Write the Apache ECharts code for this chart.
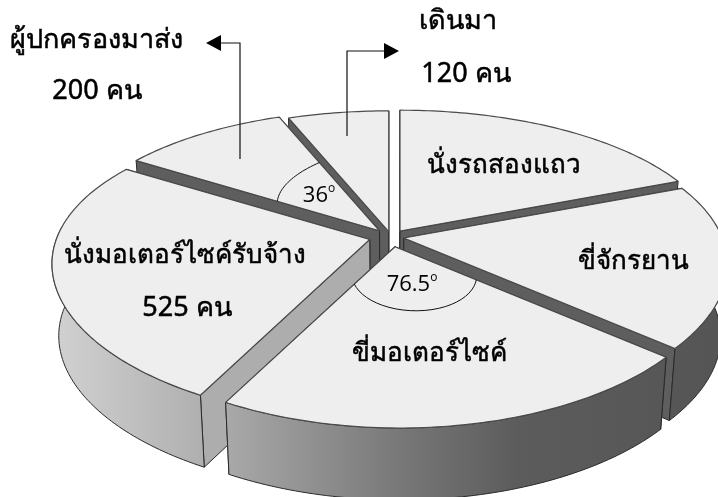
<!DOCTYPE html>
<html>
<head>
<meta charset="utf-8">
<style>
  html, body { margin: 0; padding: 0; background: #fff; }
  #chart { width: 718px; height: 497px; }
</style>
</head>
<body>
<div id="chart"></div>
<script src="https://cdn.jsdelivr.net/npm/echarts@6/dist/echarts.min.js"></script>
<script>
// จำนวนคนแต่ละวิธีเดินทาง (เริ่มที่ 12 นาฬิกา ตามเข็ม)
var sliceNames = ['นั่งรถสองแถว', 'ขี่จักรยาน', 'ขี่มอเตอร์ไซค์', 'นั่งมอเตอร์ไซค์รับจ้าง', 'ผู้ปกครองมาส่ง', 'เดินมา']
var sliceValues = [380, 350, 425, 525, 200, 120]
var valueLabels = ['', '', '', '525 คน', '200 คน', '120 คน']
var angleLabels = ['36', '76.5']

var total = sliceValues.reduce(function (a, b) { return a + b }, 0)
var rad = Math.PI / 180

// tilted disc
var cx = 391, cy = 237, rx = 316, ry = 145, px = 0.17, py = 0.2, skew = 2.5, depth = 72, taper = 0.02
var explode = [16, 13, 22, 22, 18, 12]
var paintOrder = [1, 3, 5, 4, 2, 0]
var font = '"Noto Sans", "Liberation Sans", sans-serif'
var sideFill = new echarts.graphic.LinearGradient(0, 0, 718, 0, [
  { offset: 0.07, color: '#d2d2d2' },
  { offset: 0.28, color: '#b0b0b0' },
  { offset: 0.32, color: '#a8a8a8' },
  { offset: 0.56, color: '#777777' },
  { offset: 0.72, color: '#5c5c5c' },
  { offset: 1, color: '#555555' }
], true)

function rimOffset(deg, ratio) {
  var s = Math.sin(deg * rad), c = Math.cos(deg * rad)
  return [ratio * (rx * s / (1 + px * c) + skew * (1 - c)), -ratio * ry * c / (1 + py * c)]
}

function sliceRange(i) {
  var sum = 0
  for (var k = 0; k < i; k++) sum += sliceValues[k]
  return [sum / total * 360, (sum + sliceValues[i]) / total * 360]
}

function apexOf(i) {
  var r = sliceRange(i), mid = (r[0] + r[1]) / 2
  return [cx + explode[i] * Math.sin(mid * rad), cy - explode[i] * 0.45 * Math.cos(mid * rad)]
}

function rimPoint(i, deg, ratio) {
  var a = apexOf(i), o = rimOffset(deg, ratio === undefined ? 1 : ratio)
  return [a[0] + o[0], a[1] + o[1]]
}

function below(p) {
  return [p[0] + (cx - p[0]) * taper, p[1] + depth]
}

function wallColor(deg) {
  var s = Math.sin(deg * rad), c = Math.cos(deg * rad)
  return s < 0 && c < 0 ? '#adadad' : '#5e5e5e'
}

function renderSlice(params, api) {
  var i = params.dataIndex
  var r = sliceRange(i)
  var apex = apexOf(i)
  var rim = [], front = []
  for (var d = r[0]; d <= r[1]; d = d + 1 > r[1] && d < r[1] ? r[1] : d + 1) {
    var p = rimPoint(i, d)
    rim.push(p)
    if (Math.cos(d * rad) < 0.1) front.push(p) // ขอบด้านหลังมองไม่เห็น
  }
  var first = rim[0], last = rim[rim.length - 1]
  var base = paintOrder[i] * 10
  var edge = { stroke: '#2a2a2a', lineWidth: 1, lineJoin: 'round' }
  // ผนังด้านหน้าต้องวาดทับผนังด้านหลัง
  var startFront = Math.cos(r[0] * rad) < Math.cos(r[1] * rad)
  var children = [
    {
      type: 'polygon', z2: base + (startFront ? 1 : 0),
      shape: { points: [apex, first, below(first), below(apex)] },
      style: Object.assign({ fill: wallColor(r[0]) }, edge)
    },
    {
      type: 'polygon', z2: base + (startFront ? 0 : 1),
      shape: { points: [apex, last, below(last), below(apex)] },
      style: Object.assign({ fill: wallColor(r[1]) }, edge)
    },
    {
      type: 'polygon', z2: base + 3,
      shape: { points: [apex].concat(rim) },
      style: { fill: '#eeeeee', stroke: '#4a4a4a', lineWidth: 1.2, lineJoin: 'round' }
    }
  ]
  if (front.length > 1) {
    children.push({
      type: 'polygon', z2: base + 2,
      shape: { points: front.concat(front.map(below).reverse()) },
      style: Object.assign({ fill: sideFill }, edge)
    })
  }
  return { type: 'group', children: children }
}

// เส้นโค้งบอกมุม
function angleArc(i, r0, r1, bulge) {
  var r = sliceRange(i), pts = []
  for (var t = 0; t <= 1.0001; t += 0.04) {
    var ratio = r0 + (r1 - r0) * t + bulge * Math.sin(Math.PI * t)
    pts.push(rimPoint(i, r[0] + (r[1] - r[0]) * t, ratio))
  }
  return { type: 'polyline', z: 20, shape: { points: pts }, style: { stroke: '#111', lineWidth: 1, fill: null } }
}

function label(text, x, y, size) {
  return {
    type: 'text', x: x, y: y, z: 30,
    style: {
      text: text, fill: '#000', stroke: '#000', lineWidth: 0.5,
      font: (size || 26) + 'px ' + font, align: 'center', verticalAlign: 'middle'
    }
  }
}

function degLabel(text, x, y) {
  return {
    type: 'text', x: x, y: y, z: 30,
    style: {
      text: '{a|' + text + '}{s|o}', align: 'center', verticalAlign: 'middle',
      rich: {
        a: { fill: '#000', font: '22px "Open Sans", ' + font, lineHeight: 26 },
        s: { fill: '#000', font: '12px "Open Sans", ' + font, lineHeight: 26, verticalAlign: 'top', padding: [0, 0, 10, 0] }
      }
    }
  }
}

function leader(points, head) {
  return [
    { type: 'polyline', z: 25, shape: { points: points }, style: { stroke: '#111', lineWidth: 1.2, fill: null } },
    { type: 'polygon', z: 25, shape: { points: head }, style: { fill: '#000' } }
  ]
}

var chart = echarts.init(document.getElementById('chart'))
chart.setOption({
  backgroundColor: '#fff',
  animation: false,
  series: [
    {
      type: 'custom',
      coordinateSystem: 'none',
      renderItem: renderSlice,
      clip: false,
      silent: true,
      data: sliceValues.map(function (v, i) { return { name: sliceNames[i], value: [v] } })
    }
  ],
  graphic: {
    elements: [
      angleArc(4, 0.42, 0.6, 0),
      angleArc(2, 0.3, 0.24, 0.09)
    ].concat(
      leader([[240, 159], [240, 43], [218, 43]], [[206, 43], [221, 35], [221, 51]]),
      leader([[347, 136], [347, 51], [385, 51]], [[399, 51], [384, 43], [384, 59]]),
      [
        label(sliceNames[4], 96, 40, 27),
        label(valueLabels[4], 97, 91, 27),
        label(sliceNames[5], 458, 21, 27),
        label(valueLabels[5], 466, 74, 27),
        label(sliceNames[0], 504, 166),
        label(sliceNames[1], 633, 262),
        label(sliceNames[2], 429, 354),
        label(sliceNames[3], 185, 256),
        label(valueLabels[3], 187, 308, 27),
        degLabel(angleLabels[0], 319, 196),
        degLabel(angleLabels[1], 412, 285)
      ]
    )
  }
})
</script>
</body>
</html>
